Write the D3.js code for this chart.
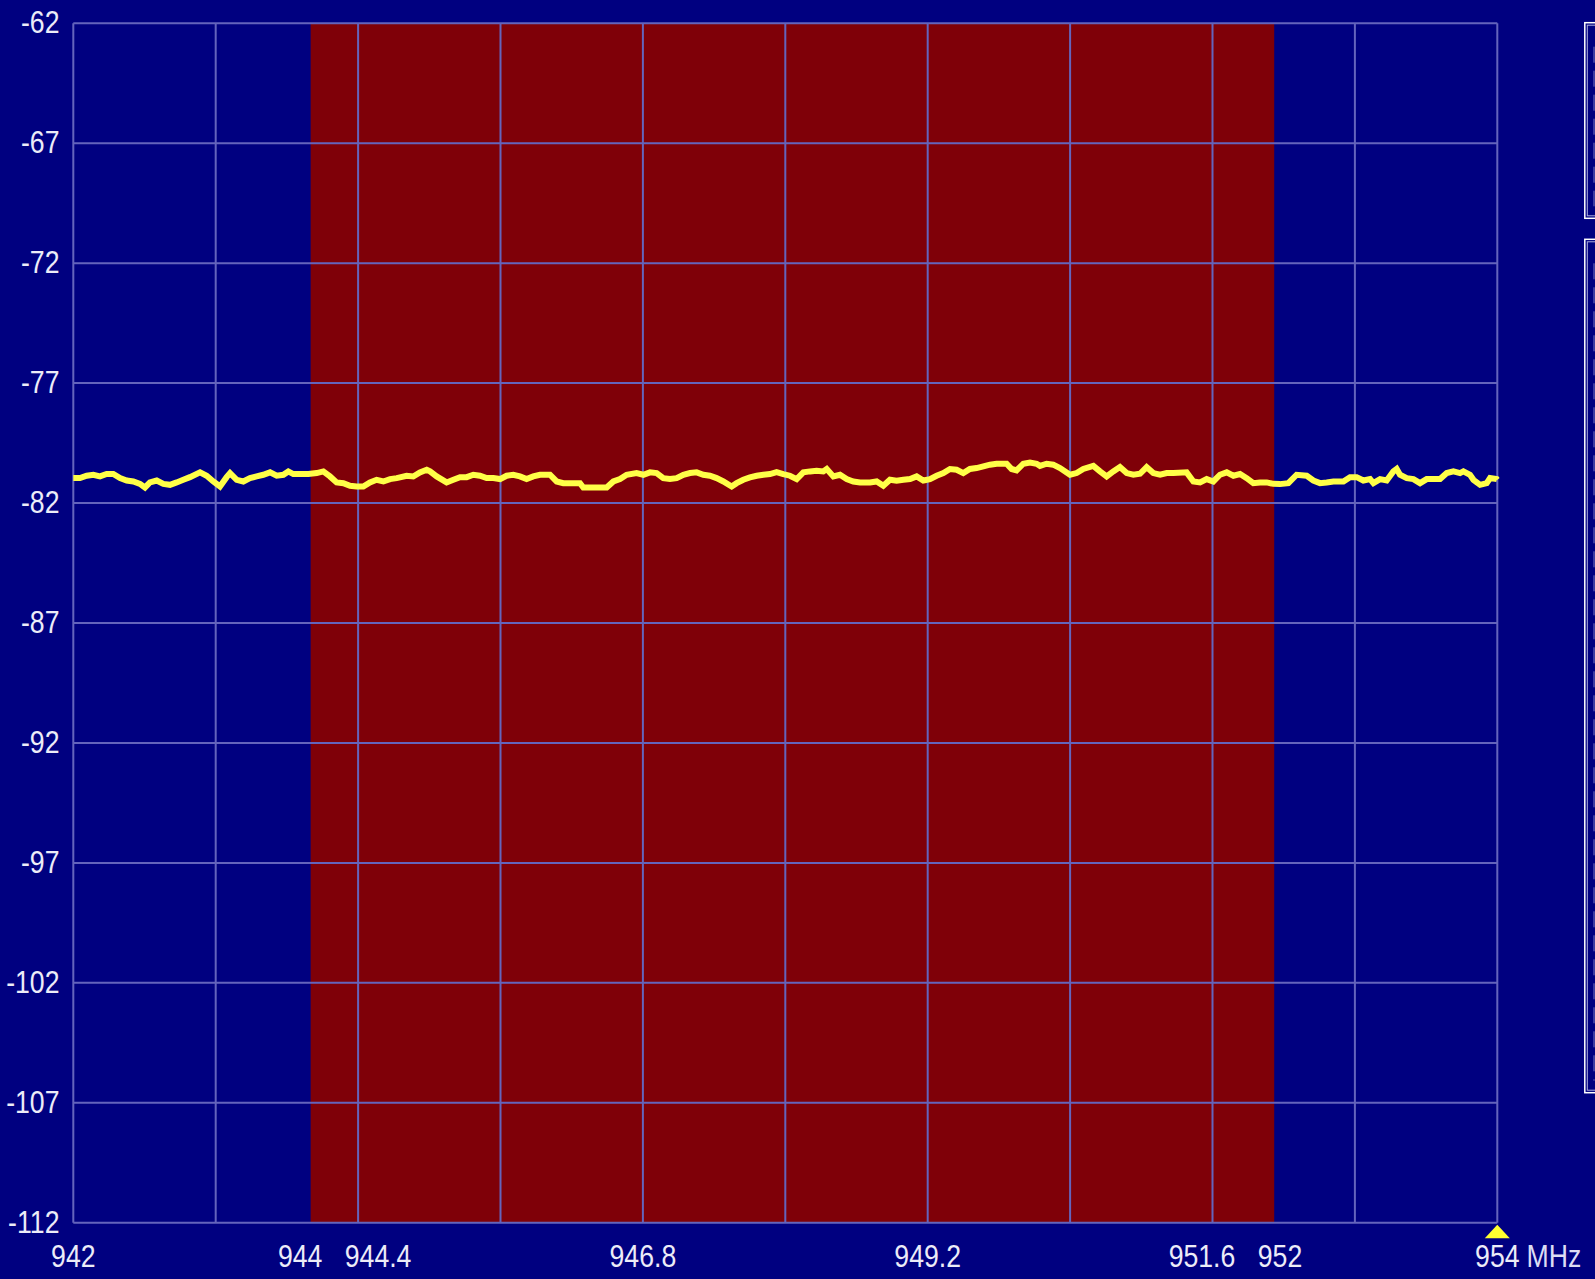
<!DOCTYPE html>
<html>
<head>
<meta charset="utf-8">
<script src="https://cdn.jsdelivr.net/npm/d3@7"></script>
<style>
  html, body { margin: 0; padding: 0; background: #000080; overflow: hidden; }
  text { font-family: "Liberation Sans", Arial, sans-serif; }
</style>
</head>
<body>
<div id="spectrum"></div>
<script>

// frequency axis (MHz) and level axis (dBm)
var freqDomain = [942, 954];
var levelDomain = [-112, -62];
var levelTicks = [-62, -67, -72, -77, -82, -87, -92, -97, -102, -107, -112];
var gridFreqs = [942, 943.2, 944.4, 945.6, 946.8, 948, 949.2, 950.4, 951.6, 952.8, 954];
var freqLabels = [942, 944, 944.4, 946.8, 949.2, 951.6, 952, 954];
var freqUnit = "MHz";

// occupied channel (red band)
var bandEdges = [944, 952.12];

// trace
var traceFreq = [
  942.000, 942.056, 942.113, 942.169, 942.225, 942.281, 942.337, 942.394, 942.450, 942.506,
  942.562, 942.604, 942.646, 942.703, 942.759, 942.815, 942.871, 942.927, 942.983, 943.068,
  943.124, 943.180, 943.236, 943.292, 943.321, 943.377, 943.433, 943.489, 943.545, 943.601,
  943.658, 943.714, 943.770, 943.812, 943.854, 943.910, 943.981, 944.051, 944.107, 944.163,
  944.219, 944.276, 944.332, 944.388, 944.444, 944.500, 944.556, 944.613, 944.669, 944.725,
  944.809, 944.865, 944.921, 944.978, 945.006, 945.062, 945.146, 945.203, 945.259, 945.315,
  945.371, 945.427, 945.483, 945.540, 945.596, 945.652, 945.708, 945.764, 945.820, 945.876,
  945.933, 945.989,
  946.017, 946.073, 946.129, 946.186, 946.270, 946.298, 946.382, 946.495, 946.551, 946.607,
  946.663, 946.747, 946.804, 946.860, 946.916, 946.972, 947.028, 947.084, 947.141, 947.197,
  947.253, 947.309, 947.365, 947.421, 947.478, 947.548, 947.590, 947.646, 947.702, 947.759,
  947.815, 947.871, 947.927, 947.983, 948.039, 948.096, 948.152, 948.208, 948.264, 948.320,
  948.349, 948.405, 948.461, 948.517, 948.573, 948.630, 948.714, 948.770, 948.826, 948.882,
  948.938, 948.995, 949.051, 949.107, 949.163, 949.219, 949.275, 949.332, 949.388, 949.444,
  949.500, 949.556, 949.612, 949.669, 949.725, 949.781, 949.865, 949.907, 949.949, 950.006,
  950.062, 950.118,
  950.146, 950.202, 950.258, 950.315, 950.399, 950.455, 950.511, 950.596, 950.652, 950.708,
  950.764, 950.820, 950.877, 950.933, 950.989, 951.045, 951.101, 951.158, 951.214, 951.270,
  951.382, 951.439, 951.495, 951.551, 951.607, 951.663, 951.720, 951.776, 951.832, 951.888,
  951.944, 952.000, 952.057, 952.113, 952.169, 952.239, 952.309, 952.394, 952.450, 952.506,
  952.562, 952.619, 952.703, 952.759, 952.815, 952.871, 952.928, 952.956, 953.012, 953.068,
  953.124, 953.152, 953.180, 953.237, 953.293, 953.349, 953.405, 953.461, 953.518, 953.574,
  953.630, 953.686, 953.714, 953.770, 953.799, 953.855, 953.911, 953.939, 953.995, 954.000
];
var traceLevel = [
  -80.96, -80.96, -80.86, -80.82, -80.89, -80.79, -80.79, -80.96, -81.06, -81.10,
  -81.20, -81.35, -81.14, -81.06, -81.20, -81.24, -81.14, -81.03, -80.92, -80.72,
  -80.86, -81.10, -81.31, -80.92, -80.75, -81.03, -81.10, -80.96, -80.89, -80.82,
  -80.72, -80.86, -80.82, -80.68, -80.79, -80.79, -80.79, -80.75, -80.68, -80.89,
  -81.14, -81.17, -81.28, -81.31, -81.31, -81.14, -81.03, -81.10, -81.00, -80.96,
  -80.86, -80.89, -80.72, -80.61, -80.68, -80.89, -81.14, -81.03, -80.92, -80.92,
  -80.82, -80.86, -80.96, -80.96, -81.00, -80.86, -80.82, -80.89, -81.00, -80.89,
  -80.82, -80.82,
  -80.82, -81.10, -81.17, -81.17, -81.17, -81.35, -81.35, -81.35, -81.10, -81.00,
  -80.82, -80.75, -80.82, -80.72, -80.75, -80.96, -81.00, -80.96, -80.82, -80.75,
  -80.72, -80.82, -80.86, -80.96, -81.10, -81.31, -81.17, -81.03, -80.93, -80.86,
  -80.82, -80.79, -80.71, -80.79, -80.86, -81.00, -80.72, -80.68, -80.65, -80.68,
  -80.58, -80.89, -80.82, -81.00, -81.10, -81.14, -81.14, -81.10, -81.28, -81.03,
  -81.07, -81.03, -81.00, -80.89, -81.06, -81.00, -80.86, -80.75, -80.58, -80.61,
  -80.75, -80.58, -80.54, -80.47, -80.40, -80.36, -80.36, -80.58, -80.64, -80.36,
  -80.31, -80.36,
  -80.45, -80.36, -80.40, -80.54, -80.82, -80.75, -80.58, -80.45, -80.68, -80.89,
  -80.68, -80.50, -80.75, -80.82, -80.78, -80.50, -80.75, -80.82, -80.75, -80.75,
  -80.72, -81.10, -81.14, -81.00, -81.10, -80.82, -80.72, -80.86, -80.79, -80.96,
  -81.17, -81.14, -81.14, -81.20, -81.21, -81.17, -80.82, -80.86, -81.06, -81.17,
  -81.14, -81.10, -81.10, -80.92, -80.92, -81.06, -81.00, -81.17, -81.00, -81.06,
  -80.68, -80.58, -80.82, -80.96, -81.00, -81.17, -81.00, -81.00, -81.00, -80.75,
  -80.68, -80.75, -80.68, -80.82, -81.03, -81.24, -81.17, -80.96, -81.00, -81.03
];

var width = 1595, height = 1279;
var plot = {left: 73.3, right: 1497.3, top: 23.3, bottom: 1222.7};

var gridColor = "#6464bc";
var textColor = "#ececf8";
var fontSize = 31, squeeze = 0.86;

var x = d3.scaleLinear().domain(freqDomain).range([plot.left, plot.right]);
var y = d3.scaleLinear().domain(levelDomain).range([plot.bottom, plot.top]);

var svg = d3.select("#spectrum").append("svg")
    .attr("width", width)
    .attr("height", height)
    .style("display", "block");

svg.append("rect")
    .attr("width", width)
    .attr("height", height)
    .style("fill", "#000080");

// red channel band, behind the grid
svg.append("rect")
    .attr("x", x(bandEdges[0]))
    .attr("y", plot.top)
    .attr("width", x(bandEdges[1]) - x(bandEdges[0]))
    .attr("height", plot.bottom - plot.top)
    .style("fill", "#7f0008");

var grid = svg.append("g");

grid.selectAll("line.h")
    .data(levelTicks)
  .enter().append("line")
    .attr("class", "h")
    .attr("x1", plot.left).attr("x2", plot.right)
    .attr("y1", function(d) { return y(d); })
    .attr("y2", function(d) { return y(d); })
    .style("stroke", gridColor)
    .style("stroke-width", 2);

grid.selectAll("line.v")
    .data(gridFreqs)
  .enter().append("line")
    .attr("class", "v")
    .attr("y1", plot.top).attr("y2", plot.bottom)
    .attr("x1", function(d) { return x(d); })
    .attr("x2", function(d) { return x(d); })
    .style("stroke", gridColor)
    .style("stroke-width", 2);

// level labels on the left
svg.append("g").selectAll("text")
    .data(levelTicks)
  .enter().append("text")
    .attr("transform", function(d) {
      return "translate(59.5," + (y(d) + 10) + ") scale(" + squeeze + ",1)";
    })
    .attr("text-anchor", "end")
    .style("font-size", fontSize + "px")
    .style("fill", textColor)
    .text(function(d) { return d; });

// frequency labels; labels that sit too close get pushed apart
var labelPos = freqLabels.map(function(d) { return x(d); });
for (var i = 0; i < labelPos.length - 1; i++) {
  if (x(freqLabels[i + 1]) - x(freqLabels[i]) < 60) {
    labelPos[i] -= 10.5;
    labelPos[i + 1] += 20;
  }
}

var xlab = svg.append("g");
freqLabels.forEach(function(d, i) {
  var t = xlab.append("text")
      .attr("transform", "translate(" + labelPos[i] + ",1267) scale(" + squeeze + ",1)")
      .attr("text-anchor", "middle")
      .style("font-size", fontSize + "px")
      .style("fill", textColor)
      .text(d);
  if (i == freqLabels.length - 1) {
    var half = t.node().getComputedTextLength() / 2;
    xlab.append("text")
        .attr("transform", "translate(" + (labelPos[i] + half * squeeze + 7) + ",1267) scale(" + squeeze + ",1)")
        .style("font-size", fontSize + "px")
        .style("fill", "#dcdcf4")
        .text(freqUnit);
  }
});

// marker triangle at the stop frequency
var mx = x(freqDomain[1]);
svg.append("path")
    .attr("d", "M" + mx + "," + (plot.bottom + 2) + "L" + (mx + 12.5) + "," + (plot.bottom + 15.5) +
               "L" + (mx - 12.5) + "," + (plot.bottom + 15.5) + "Z")
    .style("fill", "#ffff30");

// the trace
var trace = traceFreq.map(function(f, i) { return [f, traceLevel[i]]; });
var line = d3.line()
    .x(function(d) { return x(d[0]); })
    .y(function(d) { return y(d[1]); })
    .curve(d3.curveLinear);

svg.append("path")
    .datum(trace)
    .attr("d", line)
    .style("fill", "none")
    .style("stroke", "#ffff48")
    .style("stroke-width", 6)
    .style("stroke-linejoin", "miter");

// side panels, cut by the window edge
var panels = [[22.7, 218.3], [239.3, 1092.7]];
var side = svg.append("g");
panels.forEach(function(p) {
  side.append("rect")
      .attr("x", 1584.8).attr("y", p[0])
      .attr("width", 40).attr("height", p[1] - p[0])
      .style("fill", "none").style("stroke", "#ffffff").style("stroke-width", 1.5);
  side.append("rect")
      .attr("x", 1587.3).attr("y", p[0] + 2.5)
      .attr("width", 40).attr("height", p[1] - p[0] - 5)
      .style("fill", "none").style("stroke", "#b0b0e0").style("stroke-width", 1);
  side.append("line")
      .attr("x1", 1594).attr("x2", 1594)
      .attr("y1", p[0] + 24).attr("y2", p[1] - 12)
      .style("stroke", "#c8c8f0").style("stroke-width", 1)
      .style("stroke-opacity", 0.6)
      .style("stroke-dasharray", "16,8");
});

</script>
</body>
</html>
